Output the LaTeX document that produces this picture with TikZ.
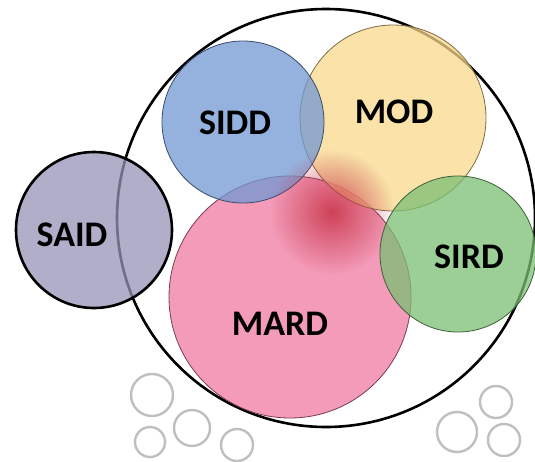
\documentclass[tikz,border=0pt]{standalone}
\usepackage{fontspec}
\setmainfont{Carlito}
\usetikzlibrary{fadings}

\definecolor{saidc}{RGB}{149,147,181}
\definecolor{siddc}{RGB}{113,152,211}
\definecolor{modc}{RGB}{248,216,139}
\definecolor{mardc}{RGB}{239,121,160}
\definecolor{sirdc}{RGB}{123,191,115}
\definecolor{glowc}{RGB}{200,50,70}
\tikzfading[name=glowfade,inner color=transparent!0,outer color=transparent!100]

\begin{document}
\begin{tikzpicture}[x=1pt,y=-1pt,
    set/.style={draw=#1!50!black,line width=0.8pt,fill=#1,fill opacity=0.75},
    lbl/.style={font=\fontsize{36}{36}\selectfont\bfseries,text=black},
    ring/.style={draw=gray!50,line width=2.4pt}]
\useasboundingbox (0,0) rectangle (535,461);
% the whole
\draw[line width=2.6pt] (326,218) circle (209pt);
% the parts
\draw[set=mardc] (290,297) circle (121pt);
\draw[set=modc] (393,118) circle (93pt);
\draw[set=siddc] (243,122) circle (81pt);
\fill[glowc,path fading=glowfade,fill opacity=0.85] (332,212) circle (62pt);
\draw[set=sirdc] (458,254) circle (78pt);
\draw[set=saidc,draw=black,line width=2.6pt] (94,230) circle (78pt);
% labels
\node[lbl] (said) at (72,235) {SAID};
\node[lbl] (sidd) at (235,123) {SIDD};
\node[lbl] (mod) at (394,112) {MOD};
\node[lbl] (mard) at (280,324) {MARD};
\node[lbl] (sird) at (469,257) {SIRD};
% small rings
\draw[ring]
    (152,395) circle (21pt)
    (150,442) circle (15pt)
    (192,428) circle (18pt)
    (237,445) circle (16pt)
    (457,432) circle (20pt)
    (496,402) circle (16pt)
    (504,440) circle (16pt);
\end{tikzpicture}
\end{document}
